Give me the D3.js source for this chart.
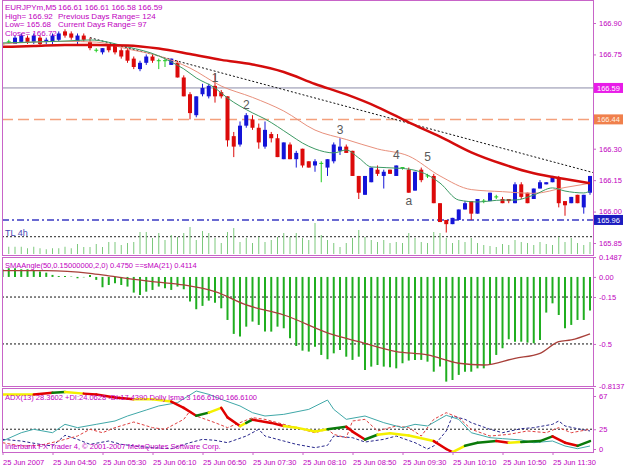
<!DOCTYPE html>
<html><head><meta charset="utf-8">
<script src="https://cdn.jsdelivr.net/npm/d3@7"></script>
<style>body{margin:0;background:#fff}svg{display:block}</style>
</head><body><svg id="c" width="625" height="469"></svg>
<script>
// ---------------- DATA ----------------
const xTickBars = [0,8,16,24,32,40,48,56,64,72,80,88];
const xTickLabels = ["25 Jun 2007","25 Jun 04:50","25 Jun 05:30","25 Jun 06:10","25 Jun 06:50","25 Jun 07:30","25 Jun 08:10","25 Jun 08:50","25 Jun 09:30","25 Jun 10:10","25 Jun 10:50","25 Jun 11:30"];
// [open, high, low, close] per M5 bar
const ohlc = [
[166.80,166.81,166.79,166.80],[166.81,166.82,166.80,166.81],[166.80,166.84,166.80,166.83],[166.81,166.85,166.81,166.84],
[166.83,166.84,166.80,166.81],[166.81,166.85,166.80,166.84],[166.83,166.84,166.79,166.80],[166.81,166.83,166.80,166.82],
[166.81,166.85,166.80,166.84],[166.82,166.86,166.81,166.85],[166.86,166.87,166.83,166.84],[166.85,166.86,166.82,166.83],
[166.81,166.85,166.80,166.84],[166.84,166.85,166.81,166.82],[166.81,166.83,166.77,166.78],[166.77,166.78,166.76,166.77],
[166.76,166.78,166.75,166.78],[166.79,166.80,166.76,166.77],[166.79,166.80,166.75,166.76],[166.77,166.78,166.73,166.74],
[166.77,166.78,166.71,166.72],[166.73,166.74,166.68,166.69],[166.68,166.72,166.67,166.71],[166.71,166.75,166.70,166.74],
[166.74,166.75,166.71,166.72],[166.72,166.73,166.68,166.72],[166.72,166.73,166.69,166.72],[166.70,166.73,166.70,166.73],
[166.71,166.72,166.64,166.64],[166.64,166.65,166.55,166.55],[166.56,166.57,166.44,166.47],[166.46,166.55,166.45,166.55],
[166.56,166.61,166.55,166.59],[166.55,166.61,166.54,166.60],[166.60,166.66,166.52,166.55],[166.57,166.58,166.54,166.55],
[166.55,166.55,166.31,166.34],[166.36,166.38,166.26,166.31],[166.32,166.43,166.31,166.41],[166.41,166.47,166.40,166.46],
[166.44,166.46,166.39,166.40],[166.40,166.42,166.30,166.33],[166.31,166.43,166.30,166.39],[166.37,166.38,166.33,166.35],
[166.35,166.37,166.26,166.26],[166.25,166.33,166.25,166.33],[166.32,166.33,166.25,166.25],[166.25,166.29,166.21,166.28],
[166.30,166.30,166.21,166.22],[166.24,166.24,166.21,166.21],[166.22,166.25,166.19,166.24],[166.23,166.24,166.14,166.23],
[166.21,166.25,166.17,166.25],[166.24,166.33,166.23,166.32],[166.29,166.35,166.27,166.31],[166.31,166.32,166.28,166.28],
[166.29,166.29,166.17,166.17],[166.17,166.17,166.06,166.09],[166.08,166.17,166.08,166.17],[166.14,166.21,166.14,166.21],
[166.20,166.22,166.17,166.18],[166.17,166.20,166.11,166.19],[166.20,166.20,166.18,166.18],[166.17,166.22,166.17,166.22],
[166.21,166.21,166.20,166.21],[166.20,166.21,166.09,166.09],[166.10,166.19,166.10,166.19],[166.20,166.21,166.14,166.15],
[166.17,166.18,166.16,166.17],[166.17,166.18,166.04,166.04],[166.04,166.04,165.95,165.95],[165.96,165.96,165.90,165.94],
[165.94,165.97,165.94,165.97],[165.96,166.01,165.96,166.01],[166.01,166.05,166.01,166.04],[166.05,166.05,165.96,165.99],
[165.99,166.06,165.99,166.06],[166.05,166.06,166.04,166.05],[166.05,166.09,166.05,166.09],[166.07,166.08,166.06,166.07],
[166.06,166.07,166.04,166.04],[166.06,166.06,166.04,166.05],[166.04,166.14,166.04,166.13],[166.13,166.14,166.06,166.07],
[166.09,166.09,166.04,166.04],[166.06,166.11,166.06,166.11],[166.11,166.15,166.11,166.14],[166.13,166.14,166.13,166.14],
[166.14,166.17,166.14,166.17],[166.16,166.17,166.02,166.04],[166.05,166.05,165.98,166.03],[166.04,166.07,166.04,166.07],
[166.08,166.08,166.04,166.04],[166.02,166.08,165.99,166.08],[166.09,166.17,166.08,166.17]
];
const volumes = [28,29,29,29,23,29,23,19,23,23,29,23,40,28,28,40,28,48,48,36,44,48,88,88,64,84,56,76,68,84,108,56,92,84,64,44,88,104,48,64,44,68,48,56,68,84,68,84,64,56,124,76,56,44,28,44,64,96,68,56,48,56,44,48,44,84,64,48,44,88,84,64,44,56,48,64,44,36,32,28,40,36,56,48,44,36,48,40,36,68,48,64,44,36,48];
// moving averages, read at selected bars: [bar, price]
const maSlow = [[0,166.786],[5,166.790],[10,166.795],[15,166.795],[20,166.793],[25,166.778],[30,166.752],[35,166.724],[40,166.702],[45,166.666],[50,166.609],[55,166.559],[60,166.499],[65,166.426],[70,166.358],[75,166.283],[80,166.227],[85,166.183],[90,166.155],[94,166.135]];
const maMid = [[0,166.800],[5,166.809],[10,166.812],[15,166.809],[20,166.776],[25,166.743],[30,166.685],[35,166.599],[40,166.545],[45,166.480],[50,166.389],[55,166.344],[60,166.299],[65,166.265],[70,166.170],[75,166.105],[80,166.095],[85,166.087],[90,166.115],[94,166.135]];
const maFast = [[0,166.805],[5,166.809],[10,166.814],[14,166.819],[20,166.786],[25,166.743],[27,166.714],[29,166.681],[31,166.638],[34,166.590],[36,166.542],[40,166.471],[42,166.442],[46,166.366],[48,166.327],[50,166.299],[53,166.280],[55,166.294],[57,166.256],[59,166.213],[64,166.206],[68,166.175],[70,166.136],[73,166.055],[76,166.046],[80,166.055],[82,166.055],[85,166.079],[88,166.113],[90,166.098],[93,166.089],[94,166.098]];
const trendStart = [14,166.83], trendEnd = [94,166.19];
const bidLevel = 166.59, orangeLevel = 166.44, blueLevel = 165.96, blackLevel = 165.88;
const waveLabels = ["1","2","3","4","5","a"];
const waveBars = [34,39,54,63,68,65];
const wavePrices = [166.64,166.51,166.39,166.27,166.26,166.05];
const priceTicks = [166.90,166.75,166.30,166.15,166.00,165.85];
const headerLines = [["EURJPYm,M5","166.61 166.61 166.58 166.59"],["High= 166.92","Previous Days Range= 124"],["Low= 165.68","Current Days Range= 97"],["Close= 166.72",""]];
// SMAAngle histogram, one value per bar
const smaAngle = [0.057,0.065,0.065,0.057,0.057,0.052,0.040,0.032,0.015,0.007,0.007,0.003,-0.010,-0.003,0.015,-0.022,-0.077,-0.060,-0.047,-0.060,-0.072,-0.117,-0.134,-0.110,-0.097,-0.072,-0.085,-0.097,-0.072,-0.092,-0.184,-0.241,-0.216,-0.177,-0.192,-0.234,-0.321,-0.425,-0.445,-0.371,-0.333,-0.358,-0.408,-0.408,-0.371,-0.383,-0.458,-0.515,-0.550,-0.557,-0.520,-0.582,-0.614,-0.570,-0.545,-0.595,-0.619,-0.595,-0.694,-0.669,-0.657,-0.669,-0.674,-0.682,-0.644,-0.624,-0.619,-0.619,-0.632,-0.707,-0.669,-0.781,-0.769,-0.731,-0.707,-0.707,-0.682,-0.682,-0.657,-0.582,-0.532,-0.465,-0.483,-0.483,-0.490,-0.495,-0.470,-0.266,-0.197,-0.284,-0.383,-0.358,-0.321,-0.321,-0.251];
const smaAngleMA = [[0,0.047],[7,0.047],[14,0.027],[17,0.008],[24,-0.035],[29,-0.060],[34,-0.110],[39,-0.209],[45,-0.284],[53,-0.433],[57,-0.483],[63,-0.557],[68,-0.582],[73,-0.644],[77,-0.657],[82,-0.607],[86,-0.570],[89,-0.483],[91,-0.470],[94,-0.425]];
const angleTicks = [0.1487,0,-0.15,-0.5,-0.8137];
const angleTickLabels = ["0.1487","0.00","-0.15","-0.5","-0.8137"];
const angleLevels = [-0.15,-0.5];
// ADX window
const adxMain = [[0,10.1],[3,20.6],[5,24.9],[8,20.6],[10,31.2],[12,27.0],[15,31.2],[18,35.4],[20,41.7],[23,49.3],[25,54.4],[28,58.6],[31,73.3],[33,69.1],[35,62.8],[38,54.4],[40,45.9],[42,41.7],[45,43.8],[49,50.1],[52,61.9],[53,50.1],[55,37.5],[58,41.7],[61,33.3],[64,27.0],[66,31.2],[68,29.1],[71,42.6],[73,37.5],[75,20.6],[78,14.3],[80,13.1],[83,11.4],[85,8.0],[88,10.1],[90,3.8],[92,0.4],[94,3.8]];
const plusDI = [[0,8.0],[3,3.8],[6,4.6],[9,10.1],[12,16.4],[14,24.9],[16,20.6],[18,27.0],[21,34.1],[24,27.0],[26,24.9],[29,37.5],[30,48.0],[31,41.7],[34,33.3],[36,27.0],[38,33.3],[40,39.6],[42,37.5],[45,31.2],[47,27.0],[50,20.6],[52,24.9],[53,18.5],[55,14.3],[56,35.4],[58,37.5],[60,22.8],[63,29.1],[65,27.0],[67,16.4],[69,37.5],[71,45.9],[73,39.6],[75,24.9],[78,16.4],[81,18.5],[84,22.8],[87,20.6],[89,27.0],[91,20.6],[94,24.9]];
const minusDI = [[0,12.2],[3,10.1],[6,5.9],[8,3.8],[10,17.3],[12,12.2],[14,5.9],[17,10.1],[19,5.9],[22,3.0],[24,1.7],[27,0.4],[30,8.0],[32,12.2],[34,11.0],[36,8.0],[39,16.4],[41,24.9],[42,16.4],[45,10.1],[47,5.9],[50,1.7],[52,4.6],[53,16.4],[56,14.3],[58,8.8],[61,12.2],[63,16.4],[66,8.0],[68,0],[69,3.8],[71,22.8],[72,41.7],[74,37.5],[75,33.3],[78,24.9],[80,20.6],[83,25.7],[85,27.0],[88,31.2],[89,35.4],[90,29.1],[92,25.7],[94,22.8]];
// Dolly lsma: [bar, value, trend] trend: u=rising, d=falling, f=flat
const dolly = [[0,69,"f"],[5,69,"f"],[8,71,"d"],[10,72,"u"],[13,70,"f"],[15,69,"d"],[18,65,"d"],[21,63,"d"],[24,63,"f"],[27,60,"f"],[29,52,"d"],[31,42,"d"],[33,46,"u"],[35,52,"f"],[36,40,"d"],[38,29,"d"],[39,33,"f"],[40,37,"u"],[43,33,"d"],[45,29,"d"],[47,27,"f"],[50,22,"f"],[52,25,"f"],[55,28,"u"],[56,22,"d"],[58,12,"d"],[60,18,"u"],[62,20,"f"],[65,17,"f"],[69,10,"f"],[71,0,"d"],[72,-4,"d"],[74,4,"f"],[76,8,"u"],[79,10,"u"],[81,8,"d"],[83,9,"f"],[86,10,"u"],[88,16,"u"],[90,8,"d"],[92,4,"d"],[94,10,"u"]];
const adxTicks = [67,25,0];
const adxLevel = 25;

// ---------------- DRAW ----------------
const FONT = '"Liberation Sans", Arial, sans-serif';
const TXT = '#c000c0', FRAME = '#c864c8';
const L = 2, R = 593;
const P1 = [0,255], P2 = [257,386], P3 = [388,452];
const svg = d3.select('#c');
svg.append('rect').attr('width',625).attr('height',469).attr('fill','#fff');

const x = d3.scaleLinear().domain([0,94]).range([2.5,590]);
const yP = d3.scaleLinear().domain([165.85,166.90]).range([243,23]);
const yVol = d3.scaleLinear().domain([0,160]).range([254,214]);
const yA = d3.scaleLinear().domain([-0.8137,0.1487]).range([386,257]);
const yD = d3.scaleLinear().domain([0,67]).range([449,396]);

const defs = svg.append('defs');
function clip(id, p){ defs.append('clipPath').attr('id',id).append('rect').attr('x',L+1).attr('y',p[0]+1).attr('width',R-L-1).attr('height',p[1]-p[0]-1); }
clip('c1',P1); clip('c2',P2); clip('c3',P3);

const g1 = svg.append('g').attr('clip-path','url(#c1)');
const g2 = svg.append('g').attr('clip-path','url(#c2)');
const g3 = svg.append('g').attr('clip-path','url(#c3)');

function hline(g, y, color, dash, w){
  g.append('line').attr('x1',L).attr('x2',R).attr('y1',y).attr('y2',y)
   .attr('stroke',color).attr('stroke-width',w||1).attr('stroke-dasharray',dash||null);
}
// main window levels
hline(g1, yP(bidLevel), '#8c8ca8', null, 1);
hline(g1, yP(orangeLevel), '#f4a07c', '11,5', 1.5);
hline(g1, yP(blueLevel), '#3a3ac4', '7,3,2,3', 1.5);
hline(g1, yP(blackLevel), '#222', '2,2', 1);

// volumes
g1.selectAll('line.vol').data(volumes).join('line').attr('class','vol')
  .attr('x1',(d,i)=>x(i)).attr('x2',(d,i)=>x(i))
  .attr('y1',yVol(0)).attr('y2',d=>yVol(d))
  .attr('stroke','#7cc87c').attr('stroke-width',1);

g1.append('text').attr('x',5).attr('y',236).text('TL 4h')
  .attr('fill','#4848b4').style('font-family',FONT).style('font-size','9px');

// trendline (ray)
{
  const x0=x(trendStart[0]), y0=yP(trendStart[1]), x1=x(trendEnd[0]), y1=yP(trendEnd[1]);
  const s=(y1-y0)/(x1-x0);
  g1.append('line').attr('x1',x0).attr('y1',y0).attr('x2',R).attr('y2',y0+s*(R-x0))
    .attr('stroke','#111').attr('stroke-width',1).attr('stroke-dasharray','2,2');
}

// candles
const cg = g1.append('g');
ohlc.forEach((d,i)=>{
  const [o,h,l,c]=d, cx=x(i);
  const col = o===c ? '#22cc22' : (c>o ? '#1414d8' : '#dc0a0a');
  cg.append('line').attr('x1',cx).attr('x2',cx).attr('y1',yP(h)).attr('y2',yP(l)).attr('stroke',col).attr('stroke-width',1);
  if(o===c){
    cg.append('line').attr('x1',cx-2).attr('x2',cx+2).attr('y1',yP(o)).attr('y2',yP(o)).attr('stroke',col).attr('stroke-width',1);
  } else {
    const top=yP(Math.max(o,c)), bot=yP(Math.min(o,c));
    cg.append('rect').attr('x',cx-2).attr('y',top).attr('width',4).attr('height',Math.max(1,bot-top)).attr('fill',col);
  }
});

// moving averages
const lineP = d3.line().x(d=>x(d[0])).y(d=>yP(d[1])).curve(d3.curveMonotoneX);
g1.append('path').attr('d',lineP(maMid)).attr('fill','none').attr('stroke','#e8907c').attr('stroke-width',1);
g1.append('path').attr('d',lineP(maFast)).attr('fill','none').attr('stroke','#3c9a64').attr('stroke-width',1);
g1.append('path').attr('d',lineP(maSlow)).attr('fill','none').attr('stroke','#d40c0c').attr('stroke-width',2.5);

// wave labels
g1.selectAll('text.wave').data(waveLabels).join('text').attr('class','wave')
  .attr('x',(d,i)=>x(waveBars[i])).attr('y',(d,i)=>yP(wavePrices[i])).attr('dy','0.35em')
  .attr('text-anchor','middle').text(d=>d)
  .attr('fill','#5a5a5a').style('font-family',FONT).style('font-size','12px');

// header
const hdr = svg.append('g').style('font-family',FONT).style('font-size','8px').attr('fill',TXT);
headerLines.forEach((ln,i)=>{
  hdr.append('text').attr('x',5).attr('y',10+i*8.7).text(ln[0]);
  hdr.append('text').attr('x',58).attr('y',10+i*8.7).text(ln[1]);
});

// right price axis
function styleAxis(g){
  g.select('.domain').remove();
  g.selectAll('line').attr('stroke',FRAME);
  g.selectAll('text').attr('fill',TXT).style('font-family',FONT).style('font-size','7.5px');
}
svg.append('g').attr('transform',`translate(${R},0)`)
  .call(d3.axisRight(yP).tickValues(priceTicks).tickSize(3).tickPadding(3).tickFormat(d3.format('.2f')))
  .call(styleAxis);

// price label boxes
function box(p, bg, fg){
  const y=yP(p);
  svg.append('rect').attr('x',R+1).attr('y',y-5).attr('width',29).attr('height',10).attr('fill',bg);
  svg.append('text').attr('x',R+4).attr('y',y).attr('dy','0.35em').text(p.toFixed(2))
    .attr('fill',fg).style('font-family',FONT).style('font-size','7.5px');
}
box(bidLevel,'#e81ce8','#fff');
box(orangeLevel,'#f0804c','#fff0e0');
box(blueLevel,'#1c1cc0','#fff');

// ---- SMAAngle window ----
angleLevels.forEach(v=>hline(g2, yA(v), '#111', '2,2', 1));
g2.selectAll('line.h').data(smaAngle).join('line').attr('class','h')
  .attr('x1',(d,i)=>x(i)).attr('x2',(d,i)=>x(i))
  .attr('y1',yA(0)).attr('y2',d=>yA(d))
  .attr('stroke','#1fae1f').attr('stroke-width',2);
const lineA = d3.line().x(d=>x(d[0])).y(d=>yA(d[1])).curve(d3.curveMonotoneX);
g2.append('path').attr('d',lineA(smaAngleMA)).attr('fill','none').attr('stroke','#a8403a').attr('stroke-width',1.3);
svg.append('text').attr('x',5).attr('y',268).text('SMAAngle(50,0.15000000,2,0) 0.4750   ==sMA(21) 0.4114')
  .attr('fill',TXT).style('font-family',FONT).style('font-size','7.5px');
svg.append('g').attr('transform',`translate(${R},0)`)
  .call(d3.axisRight(yA).tickValues(angleTicks).tickSize(3).tickPadding(3).tickFormat((d,i)=>angleTickLabels[i]))
  .call(styleAxis);

// ---- ADX window ----
hline(g3, yD(adxLevel), '#222', '2,2', 1);
const lineD = d3.line().x(d=>x(d[0])).y(d=>yD(d[1]));
g3.append('path').attr('d',lineD(minusDI)).attr('fill','none').attr('stroke','#28288c').attr('stroke-width',1).attr('stroke-dasharray','3,2');
g3.append('path').attr('d',lineD(plusDI)).attr('fill','none').attr('stroke','#e04040').attr('stroke-width',1).attr('stroke-dasharray','3,2');
g3.append('path').attr('d',lineD(adxMain)).attr('fill','none').attr('stroke','#40a8a8').attr('stroke-width',1);
const trendColor = d3.scaleOrdinal().domain(['u','d','f']).range(['#0a7a0a','#e00000','#f4f000']);
g3.selectAll('path.dolly').data(d3.pairs(dolly)).join('path').attr('class','dolly')
  .attr('d',d=>lineD(d)).attr('fill','none').attr('stroke',d=>trendColor(d[1][2]))
  .attr('stroke-width',2.5).attr('stroke-linecap','round');
svg.append('text').attr('x',5).attr('y',400).text('ADX(13) 28.3602  +DI:24.0628  -DI:17.4390  Dolly lsma 3 166.6100 166.6100')
  .attr('fill',TXT).style('font-family',FONT).style('font-size','7.5px');
svg.append('text').attr('x',5).attr('y',449).text('Interbank FX Trader 4, \u00a9 2001-2007 MetaQuotes Software Corp.')
  .attr('fill',TXT).style('font-family',FONT).style('font-size','7.5px');
svg.append('g').attr('transform',`translate(${R},0)`)
  .call(d3.axisRight(yD).tickValues(adxTicks).tickSize(3).tickPadding(3).tickFormat(d3.format('d')))
  .call(styleAxis);

// ---- frames ----
[P1,P2,P3].forEach(p=>{
  svg.append('rect').attr('x',L+0.5).attr('y',p[0]+0.5).attr('width',R-L).attr('height',p[1]-p[0])
    .attr('fill','none').attr('stroke',FRAME).attr('stroke-width',1);
});

// ---- time axis ----
const xa = svg.append('g').attr('transform',`translate(0,${P3[1]})`)
  .call(d3.axisBottom(x).tickValues(xTickBars).tickSize(3).tickPadding(5).tickFormat((d,i)=>xTickLabels[i]));
xa.select('.domain').remove();
xa.selectAll('line').attr('stroke',FRAME);
xa.selectAll('text').attr('text-anchor','start').attr('x',0)
  .attr('fill',TXT).style('font-family',FONT).style('font-size','7.5px');
</script></body></html>
